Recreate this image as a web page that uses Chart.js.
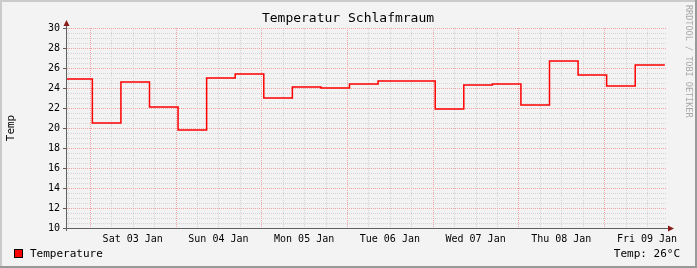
<!DOCTYPE html>
<html>
<head>
<meta charset="utf-8">
<script src="https://cdn.jsdelivr.net/npm/chart.js@4"></script>
<style>
  html, body { margin: 0; padding: 0; background: #f3f3f3; }
  #wrap { width: 697px; height: 268px; position: relative; }
</style>
</head>
<body>
<div id="wrap"><canvas id="myChart"></canvas></div>
<script>
// hours since graph start where each 8h sample begins
const periodStart = [0, 7.1, 15.1, 23.1, 31.1, 39.1, 47.1, 55.1, 63.1, 71.1, 79.1,
                     87.1, 95.1, 103.1, 111.1, 119.1, 127.1, 135.1, 143.1, 151.1, 159.1];
const endHour = 167.4;
const temps = [24.9, 20.5, 24.6, 22.1, 19.8, 25.0, 25.4, 23.0, 24.1, 24.0, 24.4,
               24.7, 24.7, 21.9, 24.3, 24.4, 22.3, 26.7, 25.3, 24.2, 26.3];
const dayLabels = ['Sat 03 Jan', 'Sun 04 Jan', 'Mon 05 Jan', 'Tue 06 Jan',
                   'Wed 07 Jan', 'Thu 08 Jan', 'Fri 09 Jan'];
const firstMidnight = 6.4; // hours after graph start
const yTicks = [10, 12, 14, 16, 18, 20, 22, 24, 26, 28, 30];

const FONT = "'DejaVu Sans Mono', monospace";
const GRID_MINOR = '#d4d4d4';
const GRID_MAJOR = '#f2a4a4';

const points = periodStart.map((x, i) => ({ x: x, y: temps[i] }));
points.push({ x: endHour, y: temps[temps.length - 1] });

// x ticks every 6h starting 6h before the first midnight
const hourOf = k => firstMidnight - 6 + 6 * k;

// rrdtool style dotted grid, positions taken from the chart scales
const dottedGrid = {
  id: 'dottedGrid',
  beforeDatasetsDraw(chart) {
    const { ctx, chartArea: a, scales: { x, y } } = chart;
    const left = Math.round(a.left), right = Math.round(a.right);
    const top = Math.round(a.top), bottom = Math.round(a.bottom);
    ctx.save();
    const passes = [false, true];
    passes.forEach(major => {
      ctx.fillStyle = major ? GRID_MAJOR : GRID_MINOR;
      y.ticks.forEach(t => {
        if ((t.value % 2 === 0) !== major) return;
        const py = Math.round(y.getPixelForValue(t.value));
        if (py >= bottom) return;
        for (let px = left; px < right; px += 2) ctx.fillRect(px, py, 1, 1);
      });
      x.ticks.forEach((t, i) => {
        if ((i % 4 === 1) !== major) return;
        const px = Math.round(x.getPixelForValue(t.value));
        for (let py = top; py < bottom; py += 2) ctx.fillRect(px, py, 1, 1);
      });
    });
    ctx.restore();
  }
};

const rrdDecor = {
  id: 'rrdDecor',
  beforeDraw(chart) {
    const { ctx, width, height } = chart;
    ctx.save();
    ctx.fillStyle = '#f3f3f3';
    ctx.fillRect(0, 0, width, height);
    ctx.restore();
  },
  afterDraw(chart) {
    const { ctx, width, height, chartArea: a } = chart;
    ctx.save();
    // frame
    ctx.fillStyle = '#cbcbcb';
    ctx.fillRect(0, 0, width, 2);
    ctx.fillRect(0, 0, 2, height);
    ctx.fillStyle = '#999999';
    ctx.fillRect(width - 2, 0, 2, height);
    ctx.fillRect(0, height - 2, width, 2);

    // axes
    ctx.strokeStyle = '#5f5f5f';
    ctx.lineWidth = 1;
    ctx.beginPath();
    ctx.moveTo(a.left - 0.5, a.bottom + 3);
    ctx.lineTo(a.left - 0.5, a.top - 3);
    ctx.moveTo(a.left - 4, a.bottom + 0.5);
    ctx.lineTo(a.right + 2, a.bottom + 0.5);
    ctx.stroke();
    ctx.fillStyle = '#8a1c1c';
    ctx.beginPath();
    ctx.moveTo(a.left - 0.5, a.top - 8);
    ctx.lineTo(a.left - 3.5, a.top - 2);
    ctx.lineTo(a.left + 2.5, a.top - 2);
    ctx.closePath();
    ctx.fill();
    ctx.beginPath();
    ctx.moveTo(a.right + 7, a.bottom + 0.5);
    ctx.lineTo(a.right + 1, a.bottom - 2.5);
    ctx.lineTo(a.right + 1, a.bottom + 3.5);
    ctx.closePath();
    ctx.fill();

    // title
    ctx.fillStyle = '#000';
    ctx.font = '13px ' + FONT;
    ctx.textAlign = 'center';
    ctx.textBaseline = 'middle';
    ctx.fillText('Temperatur Schlafmraum', 348, 19);

    // y axis title
    ctx.save();
    ctx.translate(11, 128);
    ctx.rotate(-Math.PI / 2);
    ctx.font = '11px ' + FONT;
    ctx.fillText('Temp', 0, 0);
    ctx.restore();

    // watermark
    ctx.save();
    ctx.translate(684, 5);
    ctx.rotate(Math.PI / 2);
    ctx.fillStyle = '#a8a8a8';
    ctx.font = '8.5px ' + FONT;
    ctx.textAlign = 'left';
    ctx.textBaseline = 'bottom';
    ctx.fillText('RRDTOOL / TOBI OETIKER', 0, 0);
    ctx.restore();

    // legend
    ctx.fillStyle = '#ff0000';
    ctx.fillRect(14, 249, 9, 9);
    ctx.strokeStyle = '#000';
    ctx.strokeRect(14.5, 249.5, 8, 8);
    ctx.fillStyle = '#000';
    ctx.font = '11px ' + FONT;
    ctx.textAlign = 'left';
    ctx.fillText('Temperature', 30, 254);
    ctx.textAlign = 'right';
    ctx.fillText('Temp: 26\u00b0C', 680, 254);
    ctx.restore();
  }
};

new Chart(document.getElementById('myChart'), {
  type: 'line',
  data: {
    datasets: [{
      label: 'Temperature',
      data: points,
      stepped: 'before',
      borderColor: '#ff0000',
      borderWidth: 1.5,
      pointRadius: 0,
      fill: false
    }]
  },
  options: {
    responsive: true,
    maintainAspectRatio: false,
    animation: false,
    layout: { padding: { left: 0, top: 28, right: 30, bottom: 0 } },
    plugins: { legend: { display: false }, tooltip: { enabled: false } },
    scales: {
      x: {
        type: 'linear',
        min: 0,
        max: 168,
        afterBuildTicks: s => {
          const t = [];
          for (let k = 0; hourOf(k) <= 168; k++) t.push({ value: hourOf(k) });
          s.ticks = t;
        },
        afterFit: s => { s.height = 40; },
        border: { display: false },
        grid: { drawOnChartArea: false, drawTicks: false },
        ticks: {
          autoSkip: false,
          maxRotation: 0,
          padding: 5,
          color: '#000',
          font: { family: FONT, size: 10 },
          callback: (v, i) => (i % 4 === 3) ? (dayLabels[(i - 3) / 4] || '') : ''
        }
      },
      y: {
        min: 10,
        max: 30,
        afterBuildTicks: s => {
          const t = [];
          for (let k = 0; k <= 40; k++) t.push({ value: 10 + k * 0.5 });
          s.ticks = t;
        },
        afterFit: s => { s.width = 67; },
        border: { display: false },
        grid: {
          drawOnChartArea: false,
          tickLength: 4,
          tickColor: c => c.tick.value % 2 === 0 ? '#5f5f5f' : 'rgba(0,0,0,0)'
        },
        ticks: {
          autoSkip: false,
          padding: 3,
          color: '#000',
          font: { family: FONT, size: 10 },
          callback: v => yTicks.includes(v) ? String(v) : ''
        }
      }
    }
  },
  plugins: [dottedGrid, rrdDecor]
});
</script>
</body>
</html>
